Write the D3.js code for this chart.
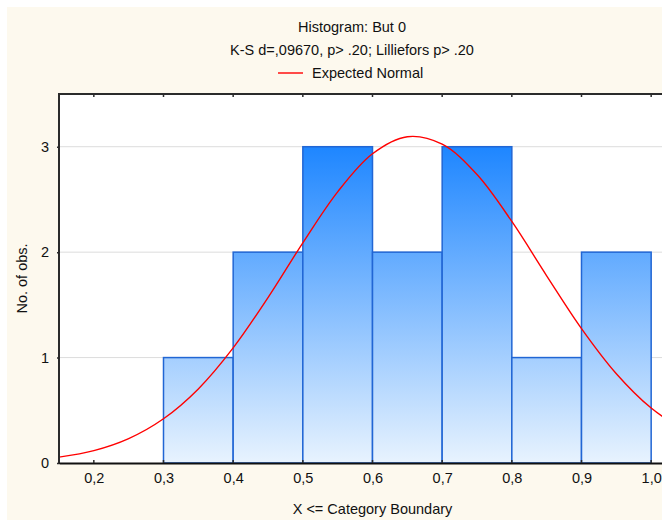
<!DOCTYPE html>
<html>
<head>
<meta charset="utf-8">
<script src="https://cdn.jsdelivr.net/npm/d3@7"></script>
<style>
  html, body { margin: 0; padding: 0; background: #ffffff; overflow: hidden; }
  text { font-family: "Liberation Sans", Arial, sans-serif; fill: #111; }
</style>
</head>
<body>
<div id="chart"></div>
<script>
// histogram bins (lower edge, upper edge) and counts
const binStarts = [0.2, 0.3, 0.4, 0.5, 0.6, 0.7, 0.8, 0.9];
const binEnds   = [0.3, 0.4, 0.5, 0.6, 0.7, 0.8, 0.9, 1.0];
const counts    = [0, 1, 2, 3, 2, 3, 1, 2];

// expected normal curve
const curveX = [0.15, 0.20, 0.25, 0.30, 0.35, 0.40, 0.45, 0.50, 0.55, 0.60, 0.65,
                0.70, 0.75, 0.80, 0.85, 0.90, 0.95, 1.00, 1.05];
const curveY = [0.056, 0.118, 0.232, 0.42, 0.703, 1.092, 1.569, 2.088, 2.572, 2.933, 3.095,
                3.024, 2.736, 2.291, 1.776, 1.275, 0.847, 0.521, 0.296];

const xTicks = [0.2, 0.3, 0.4, 0.5, 0.6, 0.7, 0.8, 0.9, 1.0];
const yTicks = [0, 1, 2, 3];

const titleLines = ["Histogram: But 0", "K-S d=,09670, p> .20; Lilliefors p> .20"];
const legendLabel = "Expected Normal";
const xTitle = "X <= Category Boundary";
const yTitle = "No. of obs.";

const W = 662, H = 522;
const plot = { left: 59, right: 686, top: 94, bottom: 463 };
const fs = 14.5;

const svg = d3.select("#chart").append("svg")
    .attr("width", W)
    .attr("height", H);

// cream panel
svg.append("rect")
    .attr("x", 7).attr("y", 7)
    .attr("width", 720).attr("height", 513)
    .attr("fill", "#fdf9ee");

const x = d3.scaleLinear().domain([0.15, 1.05]).range([plot.left, plot.right]);
const y = d3.scaleLinear().domain([0, 3.5]).range([plot.bottom, plot.top]);

// gradient runs over the whole plot height so taller bars get darker tops
const defs = svg.append("defs");
const grad = defs.append("linearGradient")
    .attr("id", "barGrad")
    .attr("gradientUnits", "userSpaceOnUse")
    .attr("x1", 0).attr("x2", 0)
    .attr("y1", y(3)).attr("y2", y(0));
grad.append("stop").attr("offset", "0%").attr("stop-color", "#1e86ff");
grad.append("stop").attr("offset", "100%").attr("stop-color", "#e8f3fe");

defs.append("clipPath").attr("id", "plotClip")
  .append("rect")
    .attr("x", plot.left).attr("y", plot.top)
    .attr("width", plot.right - plot.left)
    .attr("height", plot.bottom - plot.top);

// white plot area
svg.append("rect")
    .attr("x", plot.left).attr("y", plot.top)
    .attr("width", plot.right - plot.left)
    .attr("height", plot.bottom - plot.top)
    .attr("fill", "#ffffff");

// gridlines
svg.append("g")
  .selectAll("line")
  .data(yTicks.filter(d => d > 0))
  .join("line")
    .attr("x1", plot.left).attr("x2", plot.right)
    .attr("y1", d => y(d)).attr("y2", d => y(d))
    .attr("stroke", "#dcdcdc")
    .attr("stroke-width", 1);

// bars
svg.append("g")
  .selectAll("rect")
  .data(counts)
  .join("rect")
    .attr("x", (d, i) => x(binStarts[i]))
    .attr("y", d => y(d))
    .attr("width", (d, i) => x(binEnds[i]) - x(binStarts[i]))
    .attr("height", d => y(0) - y(d))
    .attr("fill", "url(#barGrad)")
    .attr("stroke", "#2166d4")
    .attr("stroke-width", 1.5);

// expected normal
const line = d3.line()
    .x((d, i) => x(curveX[i]))
    .y(d => y(d))
    .curve(d3.curveCatmullRom);

svg.append("path")
    .datum(curveY)
    .attr("clip-path", "url(#plotClip)")
    .attr("d", line)
    .attr("fill", "none")
    .attr("stroke", "#ff0000")
    .attr("stroke-width", 1.4);

// frame: top, left
const frame = svg.append("g").attr("stroke", "#2b2b2b").attr("stroke-width", 2);
frame.append("line").attr("x1", plot.left).attr("x2", plot.right + 1)
    .attr("y1", plot.top).attr("y2", plot.top);
frame.append("line").attr("x1", plot.left).attr("x2", plot.left)
    .attr("y1", plot.top - 1).attr("y2", plot.bottom + 1);

// x axis
const xAxis = svg.append("g")
    .attr("transform", `translate(0,${plot.bottom})`)
    .call(d3.axisBottom(x).tickValues(xTicks).tickSize(0).tickPadding(10)
        .tickFormat(d => d3.format(".1f")(d).replace(".", ",")));
xAxis.select(".domain").attr("stroke", "#111").attr("stroke-width", 2);
xAxis.selectAll("text").attr("font-size", fs).attr("fill", "#111");

// small ticks along the top border and bottom axis
svg.append("g")
  .selectAll("line")
  .data(xTicks)
  .join("line")
    .attr("x1", d => x(d)).attr("x2", d => x(d))
    .attr("y1", plot.top).attr("y2", plot.top + 3)
    .attr("stroke", "#2b2b2b").attr("stroke-width", 1.5);
svg.append("g")
  .selectAll("line")
  .data(xTicks)
  .join("line")
    .attr("x1", d => x(d)).attr("x2", d => x(d))
    .attr("y1", plot.bottom).attr("y2", plot.bottom - 3)
    .attr("stroke", "#2b2b2b").attr("stroke-width", 1.5);

// y axis
const yAxis = svg.append("g")
    .attr("transform", `translate(${plot.left},0)`)
    .call(d3.axisLeft(y).tickValues(yTicks).tickSize(2).tickPadding(8)
        .tickFormat(d3.format("d")));
yAxis.select(".domain").remove();
yAxis.selectAll(".tick line").attr("stroke", "#2b2b2b").attr("stroke-width", 1.5);
yAxis.selectAll("text").attr("font-size", fs).attr("fill", "#111");

// titles
svg.append("g")
  .selectAll("text")
  .data(titleLines)
  .join("text")
    .attr("x", 352)
    .attr("y", (d, i) => 32 + i * 23)
    .attr("text-anchor", "middle")
    .attr("font-size", fs)
    .text(d => d);

// legend
svg.append("line")
    .attr("x1", 278).attr("x2", 303)
    .attr("y1", 73).attr("y2", 73)
    .attr("stroke", "#ff0000").attr("stroke-width", 1.4);
svg.append("text")
    .attr("x", 312).attr("y", 78)
    .attr("font-size", fs)
    .text(legendLabel);

// axis titles
svg.append("text")
    .attr("x", (plot.left + plot.right) / 2)
    .attr("y", 514)
    .attr("text-anchor", "middle")
    .attr("font-size", fs)
    .text(xTitle);

svg.append("text")
    .attr("transform", `translate(27,${(plot.top + plot.bottom) / 2}) rotate(-90)`)
    .attr("text-anchor", "middle")
    .attr("font-size", fs)
    .text(yTitle);
</script>
</body>
</html>
